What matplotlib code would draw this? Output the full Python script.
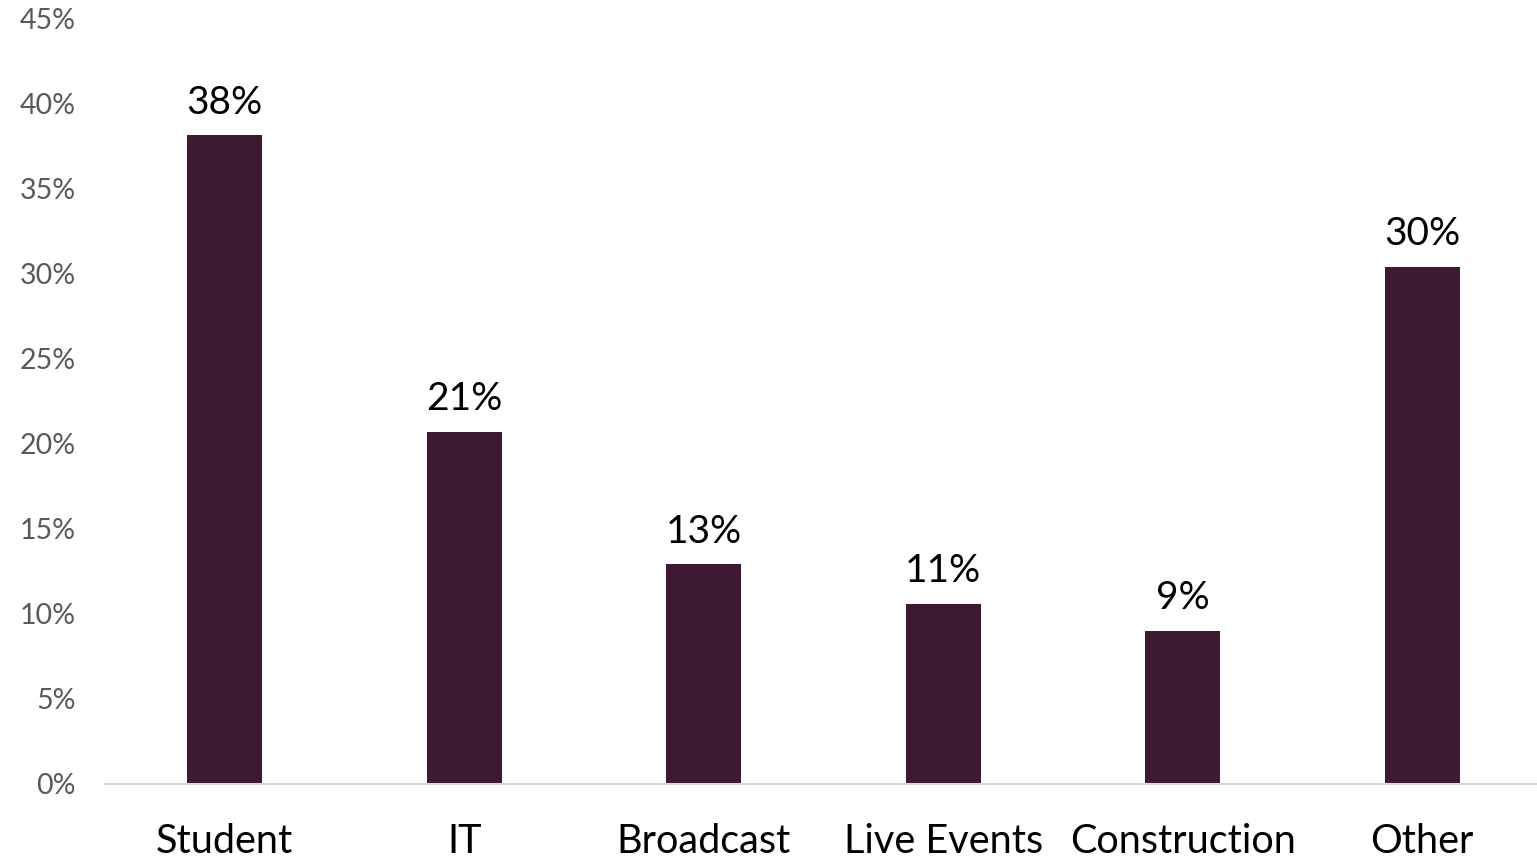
import matplotlib.pyplot as plt
from matplotlib.ticker import FuncFormatter

plt.rcParams['font.family'] = ['Lato', 'DejaVu Sans']

# Share of respondents by sector (%)
sectors = ['Student', 'IT', 'Broadcast', 'Live Events', 'Construction', 'Other']
shares = [38.1, 20.7, 12.9, 10.6, 9.0, 30.4]

bar_color = '#3E1A32'

fig = plt.figure(figsize=(15.37, 8.58), dpi=100)
ax = fig.add_axes([105 / 1537, 74 / 858, 1437 / 1537, 766 / 858])

x = range(len(sectors))
bars = ax.bar(x, shares, width=0.313, color=bar_color, zorder=2)

# value labels above each bar
for rect, v in zip(bars, shares):
    ax.annotate(f'{v:.0f}%', (rect.get_x() + rect.get_width() / 2, v),
                xytext=(0, 10.5), textcoords='offset points',
                ha='center', va='bottom', fontsize=28, color='black')

ax.set_xlim(-0.5, len(sectors) - 0.5)
ax.set_ylim(0, 45)
ax.set_yticks(range(0, 46, 5))
ax.yaxis.set_major_formatter(FuncFormatter(lambda v, _: f'{v:.0f}%'))
ax.set_xticks(list(x))
ax.set_xticklabels(sectors)

for side in ['top', 'right', 'left']:
    ax.spines[side].set_visible(False)
ax.spines['bottom'].set_color('#D9D9D9')
ax.spines['bottom'].set_linewidth(1.5)

ax.tick_params(axis='y', length=0, pad=21, labelsize=20.5, labelcolor='#595959')
ax.tick_params(axis='x', length=0, pad=28, labelsize=28.5, labelcolor='black')

fig.savefig('out.png', dpi=100, facecolor='white')
